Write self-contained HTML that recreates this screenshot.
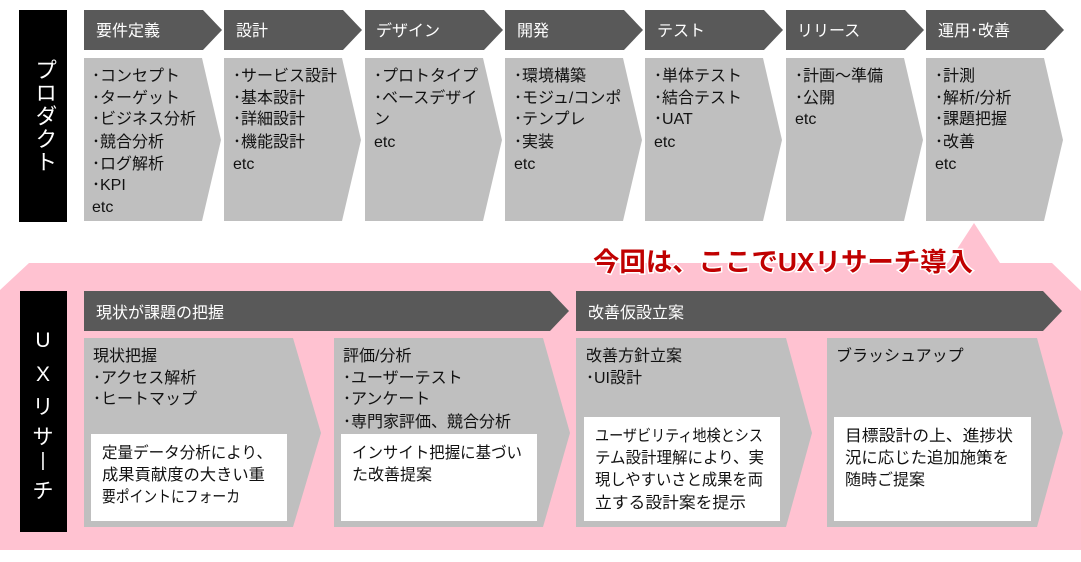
<!DOCTYPE html>
<html><head><meta charset="utf-8"><style>
html,body{margin:0;padding:0;background:#fff;}
svg{display:block;}
text{font-family:"Liberation Sans","Noto Sans CJK JP",sans-serif;}
.h{fill:#fff;font-size:16px;}
.b{fill:#111;font-size:16px;}
</style></head><body>
<svg width="1081" height="562" viewBox="0 0 1081 562" xmlns="http://www.w3.org/2000/svg">
<polygon points="29,263 948,263 974,223 1000,263 1052,263 1081,291 1081,550 0,550 0,290" fill="#ffc2d1"/>
<rect x="19" y="10" width="48" height="212" fill="#000"/>
<text x="43" y="116" fill="#fff" font-size="22" text-anchor="middle" style="writing-mode:vertical-rl;letter-spacing:1px" dominant-baseline="middle">プロダクト</text>
<g>
<polygon points="84,10 203,10 222,30 203,50 84,50" fill="#595959"/>
<polygon points="84,58 202,58 221,140 202,221 84,221" fill="#bfbfbf"/>
<text class="h" x="96" y="36">要件定義</text>
<text class="b" x="92" y="81">･コンセプト</text><text class="b" x="92" y="103">･ターゲット</text><text class="b" x="92" y="124">･ビジネス分析</text><text class="b" x="92" y="147">･競合分析</text><text class="b" x="92" y="169">･ログ解析</text><text class="b" x="92" y="190">･KPI</text><text class="b" x="92" y="212">etc</text>
</g>
<g>
<polygon points="224,10 343,10 362,30 343,50 224,50" fill="#595959"/>
<polygon points="224,58 342,58 361,140 342,221 224,221" fill="#bfbfbf"/>
<text class="h" x="236" y="36">設計</text>
<text class="b" x="233" y="81">･サービス設計</text><text class="b" x="233" y="103">･基本設計</text><text class="b" x="233" y="124">･詳細設計</text><text class="b" x="233" y="147">･機能設計</text><text class="b" x="233" y="169">etc</text>
</g>
<g>
<polygon points="365,10 484,10 503,30 484,50 365,50" fill="#595959"/>
<polygon points="365,58 483,58 502,140 483,221 365,221" fill="#bfbfbf"/>
<text class="h" x="376" y="36">デザイン</text>
<text class="b" x="374" y="81">･プロトタイプ</text><text class="b" x="374" y="103">･ベースデザイ</text><text class="b" x="374" y="124">ン</text><text class="b" x="374" y="147">etc</text>
</g>
<g>
<polygon points="505,10 624,10 643,30 624,50 505,50" fill="#595959"/>
<polygon points="505,58 623,58 642,140 623,221 505,221" fill="#bfbfbf"/>
<text class="h" x="517" y="36">開発</text>
<text class="b" x="514" y="81">･環境構築</text><text class="b" x="514" y="103">･モジュ/コンポ</text><text class="b" x="514" y="124">･テンプレ</text><text class="b" x="514" y="147">･実装</text><text class="b" x="514" y="169">etc</text>
</g>
<g>
<polygon points="645,10 764,10 783,30 764,50 645,50" fill="#595959"/>
<polygon points="645,58 763,58 782,140 763,221 645,221" fill="#bfbfbf"/>
<text class="h" x="657" y="36">テスト</text>
<text class="b" x="654" y="81">･単体テスト</text><text class="b" x="654" y="103">･結合テスト</text><text class="b" x="654" y="124">･UAT</text><text class="b" x="654" y="147">etc</text>
</g>
<g>
<polygon points="786,10 905,10 924,30 905,50 786,50" fill="#595959"/>
<polygon points="786,58 904,58 923,140 904,221 786,221" fill="#bfbfbf"/>
<text class="h" x="797" y="36">リリース</text>
<text class="b" x="795" y="81">･計画～準備</text><text class="b" x="795" y="103">･公開</text><text class="b" x="795" y="124">etc</text>
</g>
<g>
<polygon points="926,10 1045,10 1064,30 1045,50 926,50" fill="#595959"/>
<polygon points="926,58 1044,58 1063,140 1044,221 926,221" fill="#bfbfbf"/>
<text class="h" x="938" y="36">運用･改善</text>
<text class="b" x="935" y="81">･計測</text><text class="b" x="935" y="103">･解析/分析</text><text class="b" x="935" y="124">･課題把握</text><text class="b" x="935" y="147">･改善</text><text class="b" x="935" y="169">etc</text>
</g>
<text x="593" y="271" fill="#c00000" font-size="26" font-weight="bold" stroke="#fff" stroke-width="3" paint-order="stroke" textLength="380" lengthAdjust="spacingAndGlyphs">今回は、ここでUXリサーチ導入</text>
<rect x="20" y="291" width="47" height="241" fill="#000"/>
<g fill="#fff" font-size="21" text-anchor="middle">
<text x="43" y="347">U</text><text x="43" y="381">X</text><text x="43" y="414">リ</text><text x="43" y="444">サ</text><text x="43" y="466" font-size="19">|</text><text x="43" y="498">チ</text>
</g>
<polygon points="84,291 550,291 569,311 550,331 84,331" fill="#595959"/>
<text class="h" x="96" y="318">現状が課題の把握</text>
<polygon points="576,291 1043,291 1062,311 1043,331 576,331" fill="#595959"/>
<text class="h" x="588" y="318">改善仮設立案</text>
<polygon points="84,338 293,338 321,433 293,527 84,527" fill="#bfbfbf"/>
<polygon points="334,338 543,338 570,433 543,527 334,527" fill="#bfbfbf"/>
<polygon points="576,338 786,338 812,433 786,527 576,527" fill="#bfbfbf"/>
<polygon points="827,338 1037,338 1063,433 1037,527 827,527" fill="#bfbfbf"/>
<text class="b" x="93" y="361">現状把握</text><text class="b" x="93" y="383">･アクセス解析</text><text class="b" x="93" y="404">･ヒートマップ</text>
<text class="b" x="343" y="361">評価/分析</text><text class="b" x="343" y="383">･ユーザーテスト</text><text class="b" x="343" y="404">･アンケート</text><text class="b" x="343" y="427">･専門家評価、競合分析</text>
<text class="b" x="586" y="361">改善方針立案</text><text class="b" x="586" y="383">･UI設計</text>
<text class="b" x="836" y="361">ブラッシュアップ</text>
<rect x="91" y="434" width="196" height="87" fill="#fff"/>
<rect x="341" y="434" width="196" height="87" fill="#fff"/>
<rect x="584" y="417" width="196" height="104" fill="#fff"/>
<rect x="834" y="417" width="197" height="104" fill="#fff"/>
<text class="b" x="102" y="458" textLength="170" lengthAdjust="spacingAndGlyphs">定量データ分析により、</text><text class="b" x="102" y="480" textLength="163" lengthAdjust="spacingAndGlyphs">成果貢献度の大きい重</text><text class="b" x="102" y="502" textLength="138" lengthAdjust="spacingAndGlyphs">要ポイントにフォーカ</text>
<text class="b" x="352" y="458" textLength="170" lengthAdjust="spacingAndGlyphs">インサイト把握に基づい</text><text class="b" x="352" y="480">た改善提案</text>
<text class="b" x="595" y="441" textLength="168" lengthAdjust="spacingAndGlyphs">ユーザビリティ地検とシス</text><text class="b" x="595" y="463" textLength="169" lengthAdjust="spacingAndGlyphs">テム設計理解により、実</text><text class="b" x="595" y="485" textLength="168" lengthAdjust="spacingAndGlyphs">現しやすいさと成果を両</text><text class="b" x="595" y="508" textLength="151" lengthAdjust="spacingAndGlyphs">立する設計案を提示</text>
<text class="b" x="845" y="441" textLength="168" lengthAdjust="spacingAndGlyphs">目標設計の上、進捗状</text><text class="b" x="845" y="463" textLength="164" lengthAdjust="spacingAndGlyphs">況に応じた追加施策を</text><text class="b" x="845" y="485">随時ご提案</text>
</svg>
</body></html>
